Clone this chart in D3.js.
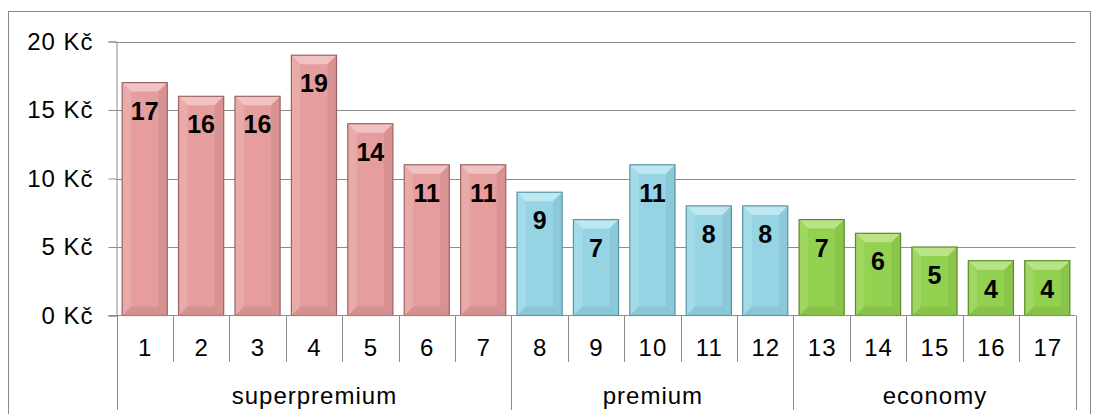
<!DOCTYPE html>
<html>
<head>
<meta charset="utf-8">
<script src="https://cdn.jsdelivr.net/npm/d3@7"></script>
<style>
  html, body { margin: 0; padding: 0; background: #fff; }
  svg { display: block; }
  text { font-family: "Liberation Sans", Arial, sans-serif; }
</style>
</head>
<body>
<svg id="chart" width="1094" height="414"></svg>
<script>
const categories = ["1","2","3","4","5","6","7","8","9","10","11","12","13","14","15","16","17"];
const values = [17,16,16,19,14,11,11,9,7,11,8,8,7,6,5,4,4];
const groupNames = ["superpremium","premium","economy"];
const groupSizes = [7,5,5];
const yTicks = [0,5,10,15,20];
const tickLabels = ["0 Kč","5 Kč","10 Kč","15 Kč","20 Kč"];

const palette = {
  superpremium: {base: "#E59D9D", light: "#F2C2C2", dark: "#C98686", edge: "#9A6464"},
  premium:      {base: "#96D4E4", light: "#BDE7F1", dark: "#7FBACB", edge: "#5A94A4"},
  economy:      {base: "#93D150", light: "#B9E386", dark: "#7DB643", edge: "#5A8A2C"}
};

const catGroup = [];
groupNames.forEach((g, i) => { for (let k = 0; k < groupSizes[i]; k++) catGroup.push(g); });

const svg = d3.select("#chart");
const plotLeft = 116.5, plotRight = 1075.5, plotTop = 41.5, plotBottom = 315.5;
const fontSize = 24;

// outer frame
svg.append("rect").attr("x", 8.5).attr("y", 11.5).attr("width", 1082).attr("height", 420)
  .attr("fill", "none").attr("stroke", "#8a8a8a").attr("stroke-width", 1);

const x = d3.scaleBand().domain(categories).range([plotLeft, plotRight]).paddingInner(0.2).paddingOuter(0.1);
const y = d3.scaleLinear().domain([0, 20]).range([plotBottom, plotTop]);

// gridlines
svg.append("g").selectAll("line").data(yTicks.filter(t => t > 0)).join("line")
  .attr("x1", plotLeft).attr("x2", plotRight)
  .attr("y1", d => Math.round(y(d)) + 0.5).attr("y2", d => Math.round(y(d)) + 0.5)
  .attr("stroke", "#8c8c8c").attr("stroke-width", 1);

// y axis
const yAxis = d3.axisLeft(y).tickValues(yTicks).tickFormat((d, i) => tickLabels[i]).tickSize(8).tickPadding(15);
const yg = svg.append("g").attr("transform", `translate(${plotLeft},0)`).call(yAxis);
yg.select(".domain").attr("stroke", "#8c8c8c");
yg.selectAll(".tick line").attr("stroke", "#8c8c8c");
yg.selectAll(".tick text").attr("font-size", fontSize).attr("fill", "#000").attr("letter-spacing", 1)
  .attr("font-family", "'Liberation Sans', Arial, sans-serif");

// bars
const b = 9;
const bars = svg.append("g").selectAll("g").data(values.map((v, i) => ({v, c: categories[i], g: catGroup[i]}))).join("g");
bars.each(function(d) {
  const g = d3.select(this);
  const p = palette[d.g];
  const x0 = x(d.c), x1 = x(d.c) + x.bandwidth();
  const y0 = y(d.v), y1 = y(0);
  g.append("rect").attr("x", x0).attr("y", y0).attr("width", x1 - x0).attr("height", y1 - y0).attr("fill", p.base);
  g.append("polygon").attr("points", [[x0,y0],[x1,y0],[x1-b,y0+b],[x0+b,y0+b]].join(" ")).attr("fill", p.light);
  g.append("polygon").attr("points", [[x0,y1],[x1,y1],[x1-b,y1-b],[x0+b,y1-b]].join(" ")).attr("fill", p.dark).attr("opacity", 0.55);
  g.append("polygon").attr("points", [[x0,y0],[x0+b,y0+b],[x0+b,y1-b],[x0,y1]].join(" ")).attr("fill", p.light).attr("opacity", 0.35);
  g.append("polygon").attr("points", [[x1,y0],[x1-b,y0+b],[x1-b,y1-b],[x1,y1]].join(" ")).attr("fill", p.dark).attr("opacity", 0.45);
  g.append("rect").attr("x", x0).attr("y", y0).attr("width", x1 - x0).attr("height", y1 - y0)
    .attr("fill", "none").attr("stroke", p.edge).attr("stroke-width", 1.2);
  g.append("text").attr("x", (x0 + x1) / 2).attr("y", y0 + 37)
    .attr("text-anchor", "middle").attr("font-size", 25).attr("font-weight", "bold").attr("fill", "#000")
    .text(d.v);
});

// x axis baseline
svg.append("line").attr("x1", plotLeft - 8).attr("x2", plotRight).attr("y1", plotBottom).attr("y2", plotBottom)
  .attr("stroke", "#8c8c8c").attr("stroke-width", 1);

// category separators
const step = x.step();
const groupBounds = [0];
groupSizes.forEach((s, i) => groupBounds.push(groupBounds[i] + s));
const sepX = d3.range(categories.length + 1).map(i => plotLeft + i * step);
svg.append("g").selectAll("line").data(sepX).join("line")
  .attr("x1", d => Math.round(d) + 0.5).attr("x2", d => Math.round(d) + 0.5)
  .attr("y1", plotBottom).attr("y2", (d, i) => groupBounds.includes(i) ? 410 : 362)
  .attr("stroke", "#8c8c8c").attr("stroke-width", 1);

// category labels
svg.append("g").selectAll("text").data(categories).join("text")
  .attr("x", d => x(d) + x.bandwidth() / 2 + 0.5).attr("y", 356)
  .attr("text-anchor", "middle").attr("font-size", fontSize).attr("letter-spacing", 1).attr("fill", "#000").text(d => d);

// group labels
svg.append("g").selectAll("text").data(groupNames).join("text")
  .attr("x", (d, i) => plotLeft + (groupBounds[i] + groupBounds[i + 1]) / 2 * step + 0.5).attr("y", 404)
  .attr("text-anchor", "middle").attr("font-size", fontSize).attr("letter-spacing", 1).attr("fill", "#000").text(d => d);
</script>
</body>
</html>
